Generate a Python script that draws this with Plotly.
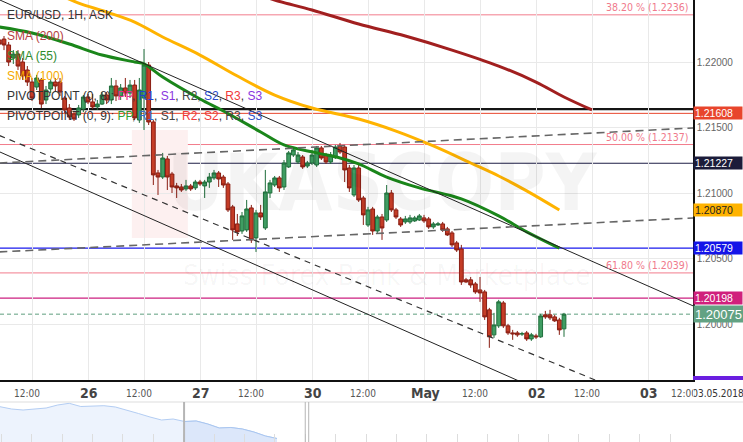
import plotly.graph_objects as go

# ---------------- data ----------------
hours = list(range(-19, 103))  # hourly candle index, 0 = 26 Apr 00:00 (weekend removed)

open_ = [1.22168, 1.22175, 1.22130, 1.22030, 1.22061, 1.22000, 1.21939, 1.21847, 1.21809, 1.21863,
         1.21710, 1.21794, 1.21847, 1.21847, 1.21725, 1.21649, 1.21603, 1.21596, 1.21641, 1.21733,
         1.21695, 1.21657, 1.21679, 1.21748, 1.21710, 1.21817, 1.21741, 1.21802, 1.21763, 1.21824,
         1.21557, 1.21725, 1.21977, 1.21542, 1.21153, 1.21122, 1.21260, 1.21145, 1.21054, 1.21046,
         1.21031, 1.21054, 1.21039, 1.21084, 1.21054, 1.21084, 1.21115, 1.21153, 1.21122, 1.21069,
         1.20894, 1.20764, 1.20710, 1.20718, 1.20886, 1.20657, 1.20848, 1.20733, 1.21000, 1.21061,
         1.21115, 1.21046, 1.21199, 1.21290, 1.21237, 1.21275, 1.21206, 1.21229, 1.21214, 1.21344,
         1.21290, 1.21237, 1.21275, 1.21359, 1.21351, 1.21191, 1.20985, 1.21191, 1.20962, 1.20756,
         1.20878, 1.20710, 1.20817, 1.20794, 1.21000, 1.20871, 1.20802, 1.20779, 1.20779, 1.20787,
         1.20794, 1.20810, 1.20802, 1.20741, 1.20756, 1.20764, 1.20726, 1.20695, 1.20619, 1.20573,
         1.20337, 1.20337, 1.20306, 1.20260, 1.20245, 1.20108, 1.19917, 1.19986, 1.20161, 1.19986,
         1.19932, 1.19932, 1.19925, 1.19932, 1.19886, 1.19909, 1.19902, 1.20070, 1.20070, 1.20054,
         1.20031, 1.19963]
high = [1.22191, 1.22198, 1.22153, 1.22091, 1.22091, 1.22030, 1.21969, 1.21878, 1.21901, 1.21878,
        1.21817, 1.21870, 1.21878, 1.21878, 1.21741, 1.21679, 1.21618, 1.21672, 1.21748, 1.21756,
        1.21756, 1.21710, 1.21771, 1.21771, 1.21878, 1.21863, 1.21832, 1.21878, 1.21863, 1.21863,
        1.21878, 1.22099, 1.22000, 1.21557, 1.21176, 1.21306, 1.21283, 1.21161, 1.21077, 1.21069,
        1.21100, 1.21069, 1.21100, 1.21100, 1.21100, 1.21153, 1.21176, 1.21168, 1.21138, 1.21084,
        1.20909, 1.20840, 1.20855, 1.20947, 1.20909, 1.20871, 1.20909, 1.21176, 1.21100, 1.21130,
        1.21130, 1.21252, 1.21321, 1.21344, 1.21313, 1.21290, 1.21245, 1.21329, 1.21359, 1.21359,
        1.21306, 1.21313, 1.21367, 1.21382, 1.21367, 1.21214, 1.21214, 1.21214, 1.20978, 1.20894,
        1.20894, 1.20833, 1.20840, 1.21061, 1.21023, 1.20886, 1.20817, 1.20825, 1.20833, 1.20825,
        1.20840, 1.20833, 1.20817, 1.20779, 1.20779, 1.20779, 1.20741, 1.20710, 1.20634, 1.20604,
        1.20352, 1.20359, 1.20321, 1.20359, 1.20260, 1.20123, 1.20085, 1.20184, 1.20176, 1.20001,
        1.19955, 1.19947, 1.19940, 1.19947, 1.19932, 1.19925, 1.20077, 1.20100, 1.20108, 1.20070,
        1.20047, 1.20085]
low = [1.22114, 1.22091, 1.21969, 1.21985, 1.21939, 1.21863, 1.21817, 1.21702, 1.21786, 1.21649,
       1.21679, 1.21763, 1.21771, 1.21741, 1.21611, 1.21557, 1.21550, 1.21573, 1.21618, 1.21679,
       1.21641, 1.21634, 1.21672, 1.21679, 1.21679, 1.21702, 1.21710, 1.21733, 1.21725, 1.21557,
       1.21535, 1.21481, 1.21519, 1.21061, 1.20985, 1.21107, 1.21023, 1.21000, 1.20962, 1.21008,
       1.21016, 1.21016, 1.21023, 1.21054, 1.20962, 1.21039, 1.21100, 1.21046, 1.21039, 1.20855,
       1.20642, 1.20672, 1.20688, 1.20703, 1.20619, 1.20550, 1.20794, 1.20718, 1.20962, 1.21046,
       1.21008, 1.21023, 1.21191, 1.21275, 1.21222, 1.21184, 1.21191, 1.21214, 1.21199, 1.21252,
       1.21222, 1.21222, 1.21260, 1.21298, 1.21084, 1.21008, 1.20970, 1.20932, 1.20756, 1.20741,
       1.20680, 1.20695, 1.20642, 1.20779, 1.20855, 1.20802, 1.20741, 1.20764, 1.20764, 1.20779,
       1.20787, 1.20772, 1.20726, 1.20726, 1.20749, 1.20703, 1.20672, 1.20588, 1.20550, 1.20298,
       1.20314, 1.20276, 1.20230, 1.20169, 1.20031, 1.19818, 1.19894, 1.19970, 1.19970, 1.19917,
       1.19879, 1.19902, 1.19909, 1.19871, 1.19871, 1.19886, 1.19894, 1.20039, 1.20031, 1.20016,
       1.19917, 1.19902]
close = [1.22137, 1.22130, 1.22000, 1.22061, 1.21969, 1.21893, 1.21847, 1.21725, 1.21878, 1.21679,
         1.21786, 1.21847, 1.21817, 1.21771, 1.21634, 1.21580, 1.21565, 1.21649, 1.21733, 1.21695,
         1.21657, 1.21679, 1.21748, 1.21710, 1.21817, 1.21741, 1.21802, 1.21763, 1.21824, 1.21573,
         1.21786, 1.21977, 1.21542, 1.21138, 1.21122, 1.21267, 1.21122, 1.21046, 1.21039, 1.21023,
         1.21054, 1.21031, 1.21084, 1.21069, 1.21084, 1.21122, 1.21153, 1.21107, 1.21061, 1.20871,
         1.20718, 1.20703, 1.20825, 1.20878, 1.20642, 1.20848, 1.20817, 1.21008, 1.21077, 1.21115,
         1.21039, 1.21229, 1.21306, 1.21329, 1.21290, 1.21199, 1.21229, 1.21290, 1.21344, 1.21267,
         1.21237, 1.21290, 1.21351, 1.21313, 1.21176, 1.21039, 1.21191, 1.20947, 1.20833, 1.20871,
         1.20710, 1.20817, 1.20733, 1.21000, 1.20871, 1.20817, 1.20756, 1.20802, 1.20810, 1.20810,
         1.20825, 1.20787, 1.20741, 1.20764, 1.20764, 1.20718, 1.20680, 1.20604, 1.20565, 1.20321,
         1.20321, 1.20298, 1.20245, 1.20237, 1.20054, 1.19902, 1.19993, 1.20169, 1.19986, 1.19932,
         1.19925, 1.19917, 1.19925, 1.19886, 1.19917, 1.19902, 1.20062, 1.20054, 1.20047, 1.20024,
         1.19955, 1.20075]

sma55_h = [-19, -12, -4, 3, 10, 12, 16, 24, 29, 37, 42, 49, 54, 58, 64, 71, 80, 88, 94, 101]
sma55_p = [1.22267, 1.22221, 1.22137, 1.22053, 1.22000, 1.21985, 1.21885, 1.21718, 1.21626, 1.21466,
           1.21367, 1.21306, 1.21267, 1.21222, 1.21122, 1.21039, 1.20955, 1.20825, 1.20703, 1.20579]
sma100_h = [-6, -2, 4, 10, 16, 24, 32, 40, 48, 58, 66, 74, 82, 88, 94, 101]
sma100_p = [1.22511, 1.22450, 1.22381, 1.22305, 1.22191, 1.22053, 1.21893, 1.21748, 1.21649, 1.21565,
            1.21473, 1.21359, 1.21229, 1.21130, 1.21016, 1.20870]
sma200_h = [37, 40, 48, 58, 68, 78, 88, 96, 102, 108]
sma200_p = [1.22511, 1.22473, 1.22397, 1.22290, 1.22198, 1.22091, 1.21969, 1.21847, 1.21733, 1.21634]

trend_h = [-19, 130]
trend_a = [1.22475, 1.20133]   # upper falling channel (solid)
trend_b = [1.21315, 1.18973]   # lower falling channel (solid)
trend_c = [1.21439, 1.19261]   # falling dashed
trend_d = [1.21229, 1.21497]   # rising dashed upper
trend_e = [1.20550, 1.20810]   # rising dashed lower

fib_levels = [1.2236, 1.2137, 1.2039]
fib_labels = ["38.20 % (1.2236)", "50.00 % (1.2137)", "61.80 % (1.2039)"]

hlines = [(1.21641, "#151515", 2.2, "solid"), (1.21608, "#e8452c", 1, "solid"),
          (1.21227, "#1e1e46", 1.2, "solid"), (1.20579, "#1a1aee", 1.2, "solid"),
          (1.20198, "#cc2080", 1.2, "solid"), (1.20075, "#5f9f7f", 1, "dash")]

price_tags = [(1.21608, "1.21608", "#e8452c", "white"), (1.21227, "1.21227", "#1c1c3a", "white"),
              (1.20870, "1.20870", "#ffb300", "#222222"), (1.20579, "1.20579", "#1414e8", "white"),
              (1.20198, "1.20198", "#d0207c", "white")]
last_price = 1.20075

y_ticks = [1.20, 1.205, 1.21, 1.215, 1.22]
x_ticks = [-12, 0, 12, 24, 36, 48, 60, 72, 84, 96, 108, 120]
x_labels = ["12:00", "26", "12:00", "27", "12:00", "30", "12:00", "May", "12:00", "02", "12:00", "03"]

nav_days = list(range(25))
nav_values = [1.24295, 1.2395, 1.238, 1.2395, 1.241, 1.2455, 1.24805, 1.24325, 1.244, 1.24445,
              1.2425, 1.238, 1.23275, 1.2275, 1.223, 1.2245, 1.22075, 1.2215, 1.217, 1.211,
              1.21175, 1.2095, 1.205, 1.199, 1.19525]

# ---------------- layout constants ----------------
W, H = 743, 442
PW, PH = 693, 380
NARROW = "Liberation Sans Narrow, DejaVu Sans Condensed, Liberation Sans, Arial, sans-serif"
SANS = "Liberation Sans, Arial, sans-serif"
Y0, Y1 = 1.195725, 1.224733
X0, X1 = -18.857, 129.64

fig = go.Figure()

fig.add_trace(go.Candlestick(
    x=hours, open=open_, high=high, low=low, close=close,
    increasing=dict(line=dict(color="#1f6e3b", width=1), fillcolor="#3f9d62"),
    decreasing=dict(line=dict(color="#8a1d12", width=1), fillcolor="#c43c26"),
    whiskerwidth=0, showlegend=False, hoverinfo="skip"))

fig.add_trace(go.Scatter(x=sma200_h, y=sma200_p, mode="lines", line=dict(color="#a11f1f", width=3, shape="spline"), showlegend=False))
fig.add_trace(go.Scatter(x=sma100_h, y=sma100_p, mode="lines", line=dict(color="#ffb300", width=3, shape="spline"), showlegend=False))
fig.add_trace(go.Scatter(x=sma55_h, y=sma55_p, mode="lines", line=dict(color="#1a861a", width=3, shape="spline"), showlegend=False))

for vals, dash, col, w in [(trend_a, "solid", "#222222", 1), (trend_b, "solid", "#222222", 1),
                           (trend_c, "6px,5px", "#333333", 1.2), (trend_d, "8px,5px", "#666666", 1.6),
                           (trend_e, "8px,5px", "#666666", 1.6)]:
    fig.add_trace(go.Scatter(x=trend_h, y=vals, mode="lines", line=dict(color=col, width=w, dash=dash),
                             showlegend=False, hoverinfo="skip"))

# navigator
fig.add_trace(go.Scatter(x=nav_days, y=nav_values, xaxis="x2", yaxis="y2", mode="lines", fill="tozeroy",
                         fillcolor="#edf3fd", line=dict(color="#b3cdf3", width=1), showlegend=False))
fig.add_trace(go.Scatter(x=nav_days[16:], y=nav_values[16:], xaxis="x2", yaxis="y2", mode="lines", fill="tozeroy",
                         fillcolor="#dce7fa", line=dict(color="#a9c6f0", width=1), showlegend=False))

shapes = []
# watermark box
shapes.append(dict(type="rect", xref="x", yref="y", x0=9.4, x1=21.4, y0=1.20657, y1=1.21481,
                   fillcolor="#fdf0f0", line=dict(width=0), layer="below"))
for lv in fib_levels:
    shapes.append(dict(type="line", xref="paper", yref="y", x0=0, x1=1, y0=lv, y1=lv,
                       line=dict(color="#f27c8c", width=1), layer="below"))
for lv, col, w, dsh in hlines:
    shapes.append(dict(type="line", xref="paper", yref="y", x0=0, x1=1, y0=lv, y1=lv,
                       line=dict(color=col, width=w, dash=dsh if dsh == "solid" else "4px,3px"), layer="below"))
# bottom purple tag (mostly cut)
shapes.append(dict(type="rect", xref="paper", yref="paper", x0=1.0, x1=W / PW, y0=(H - PH) / H, y1=(H - PH + 4) / H,
                   fillcolor="#6a1ee0", line=dict(width=0)))
# navigator border + handles
shapes.append(dict(type="line", xref="paper", yref="paper", x0=0, x1=W / PW, y0=40 / H, y1=40 / H,
                   line=dict(color="#dddddd", width=1)))
for xd, wd in [(15.95, 2), (26.45, 1), (26.75, 1)]:
    shapes.append(dict(type="line", xref="x2", yref="paper", x0=xd, x1=xd, y0=0, y1=40 / H,
                       line=dict(color="#b5b5b5", width=wd)))

ann = []
# watermark text
ann.append(dict(x=63, y=1.2108, xref="x", yref="y", text="<b>UKASCOPY</b>", showarrow=False,
                font=dict(family=NARROW, size=78, color="rgba(0,0,0,0.045)")))
ann.append(dict(x=64, y=1.2037, xref="x", yref="y", text="Swiss Forex Bank &amp; Marketplace", showarrow=False,
                font=dict(family=NARROW, size=28, color="rgba(0,0,0,0.04)")))

# legend texts
def py(px):
    return 1 - px / H

leg = [
    ("EUR/USD, 1H, ASK", 15),
    ('<span style="color:#b5413f">SMA (200)</span>', 36),
    ('<span style="color:#2e8b2e">SMA (55)</span>', 56),
    ('<span style="color:#f5aa00">SMA (100)</span>', 76),
    ('PIVOTPOINT (0, 8): <span style="color:#e8308a">PP</span>, <span style="color:#2040d0">R1</span>, '
     '<span style="color:#8a35e0">S1</span>, <span style="color:#444">R2</span>, <span style="color:#2a4acb">S2</span>, '
     '<span style="color:#f03a3a">R3</span>, <span style="color:#8a35e0">S3</span>', 96),
    ('PIVOTPOINT (0, 9): <span style="color:#30a030">PP</span>, <span style="color:#3a6cc8">R1</span>, '
     '<span style="color:#444">S1</span>, <span style="color:#f03a3a">R2</span>, <span style="color:#f03a3a">S2</span>, '
     '<span style="color:#444">R3</span>, <span style="color:#3050c8">S3</span>', 116),
]
for txt, ypx in leg:
    ann.append(dict(x=5 / PW, y=py(ypx), xref="paper", yref="paper", text=txt, showarrow=False,
                    xanchor="left", yanchor="middle", font=dict(family=SANS, size=12, color="#333333")))

# fib labels
for lv, lab in zip(fib_levels, fib_labels):
    ann.append(dict(x=690 / PW, y=lv, xref="paper", yref="y", text=lab, showarrow=False,
                    xanchor="right", yanchor="bottom", font=dict(family=NARROW, size=10.5, color="#f07a8c")))

# price tags on right axis
for lv, txt, bg, fg in price_tags:
    ann.append(dict(x=1.0, y=lv, xref="paper", yref="y", text=txt, showarrow=False, xanchor="left",
                    yanchor="middle", bgcolor=bg, width=46, height=10, borderpad=1, align="left",
                    font=dict(family=SANS, size=10.5, color=fg)))
ann.append(dict(x=1.0, y=last_price, xref="paper", yref="y", text="1.20075", showarrow=False, xanchor="left",
                yanchor="middle", bgcolor="#62a283", width=48, height=14, borderpad=1, align="left",
                font=dict(family=SANS, size=13, color="white")))

# x labels
for xv, lab in zip(x_ticks, x_labels):
    if xv > X1:
        continue
    if lab == "12:00":
        ann.append(dict(x=xv, y=py(393), xref="x", yref="paper", text=lab, showarrow=False, xshift=-5,
                        yanchor="middle", font=dict(family=NARROW, size=10, color="#555555")))
    else:
        ann.append(dict(x=xv, y=py(393), xref="x", yref="paper", text="<b>" + lab + "</b>", showarrow=False,
                        xshift=1, yanchor="middle", font=dict(family=NARROW, size=14, color="#444444")))
ann.append(dict(x=699 / PW, y=py(393), xref="paper", yref="paper", text="12:00", showarrow=False,
                yanchor="middle", font=dict(family=NARROW, size=10, color="#555555")))
ann.append(dict(x=1.0, y=py(393), xref="paper", yref="paper", text="03.05.2018", showarrow=False,
                xanchor="left", yanchor="middle", bgcolor="white", width=50, height=12, borderpad=0,
                align="right", font=dict(family=NARROW, size=10, color="#333333")))

fig.update_layout(
    width=W, height=H, margin=dict(l=0, r=W - PW, t=0, b=0),
    paper_bgcolor="white", plot_bgcolor="white", showlegend=False,
    boxgap=0.15, boxgroupgap=0.05,
    xaxis=dict(domain=[0, 1], range=[X0, X1], anchor="y", tickmode="array", tickvals=x_ticks,
               showticklabels=False, showgrid=True, gridcolor="#e9e9e9", gridwidth=1, zeroline=False,
               showline=True, linecolor="#111111", linewidth=1.5, rangeslider=dict(visible=False), fixedrange=True),
    yaxis=dict(domain=[(H - PH) / H, 1], range=[Y0, Y1], side="right", tickmode="array", tickvals=y_ticks,
               ticktext=["%.5f" % v for v in y_ticks], showgrid=True, gridcolor="#e9e9e9", zeroline=False,
               showline=True, linecolor="#111111", linewidth=1.5, ticks="",
               tickfont=dict(family=SANS, size=10, color="#666666")),
    xaxis2=dict(domain=[0, 1], range=[0, 60.05], anchor="y2", showgrid=False, zeroline=False, showline=False,
                ticks="inside", ticklen=8, tickcolor="#dddddd", tickmode="linear", tick0=2.747, dtick=2.634,
                showticklabels=False),
    yaxis2=dict(domain=[0, 40 / H], range=[1.19, 1.25], visible=False),
    shapes=shapes, annotations=ann,
)

fig.write_html("out.html", config={"displayModeBar": False},
               post_script="document.body.style.margin='0';document.body.style.overflow='hidden';"
                           "document.documentElement.style.overflow='hidden';")
